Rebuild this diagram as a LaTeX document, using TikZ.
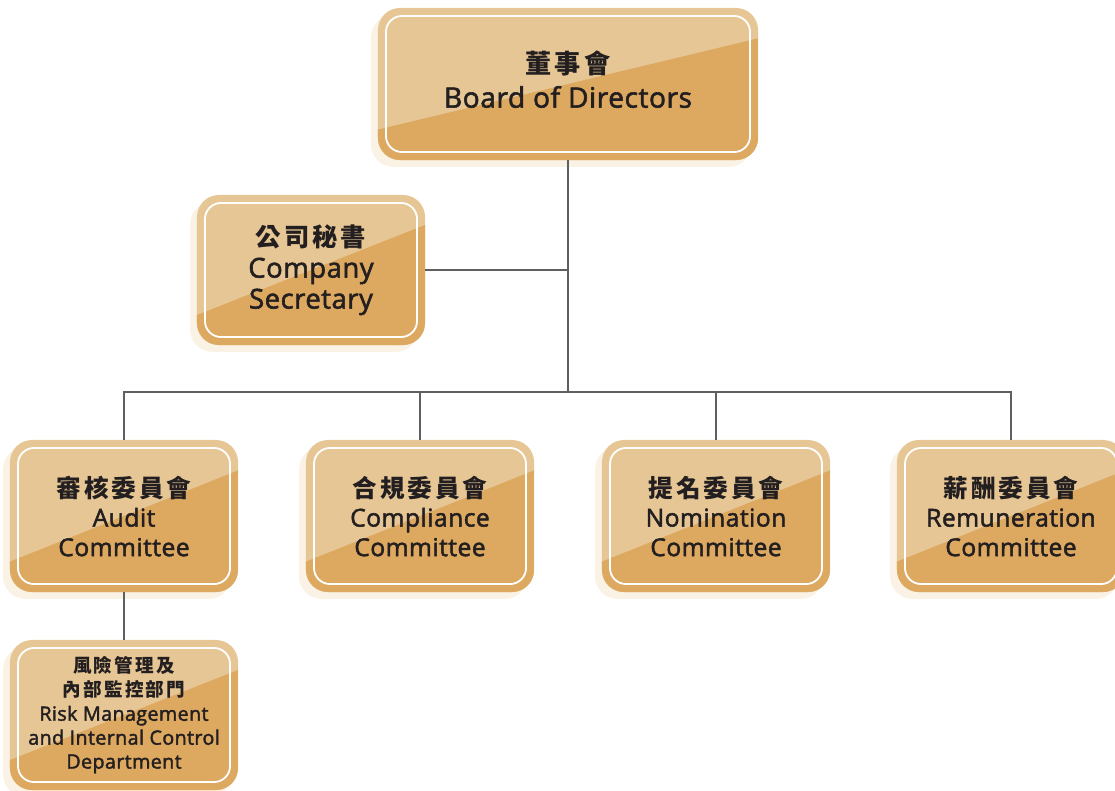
\documentclass[tikz,border=0pt]{standalone}
\usepackage{fontspec}
\setmainfont{Open Sans}[FakeBold=2, LetterSpace=2]
\newfontfamily\cjk{Noto Sans CJK TC}[LetterSpace=12]
\usetikzlibrary{calc,positioning,shadows}
\definecolor{boxlight}{RGB}{230,198,148}
\definecolor{boxdark}{RGB}{221,168,96}
\definecolor{boxshade}{RGB}{250,242,228}
\definecolor{inkdark}{RGB}{35,31,32}
\definecolor{linegray}{RGB}{95,95,95}
\newcommand{\zh}[2]{{\fontsize{#1}{#1}\selectfont\cjk\bfseries #2}}

\begin{document}
\begin{tikzpicture}[x=0.025cm, y=-0.025cm]
\useasboundingbox (0,0) rectangle (1115,790);
\tikzstyle{orgbox}=[rounded corners=0.55cm, fill=boxlight, text=inkdark,
                    align=center, inner sep=0pt,
                    minimum width=5.7cm, minimum height=3.8cm,
                    font=\fontsize{17.5}{21}\selectfont,
                    drop shadow={shadow xshift=-0.17cm, shadow yshift=-0.17cm,
                                 fill=boxshade, opacity=1},
                    path picture={
                      \fill[boxdark, sharp corners]
                        ($(path picture bounding box.south west)!0.2!(path picture bounding box.north west)$)
                        -- ($(path picture bounding box.south east)!0.8!(path picture bounding box.north east)$)
                        -- (path picture bounding box.south east)
                        -- (path picture bounding box.south west) -- cycle;
                      \draw[white, line width=1.3pt, rounded corners=0.4cm]
                        ([shift={(0.2cm,-0.2cm)}]path picture bounding box.north west)
                        rectangle ([shift={(-0.2cm,0.2cm)}]path picture bounding box.south east);
                    }]
\tikzstyle{bigbox}=[orgbox, minimum width=9.5cm, font=\fontsize{20}{24}\selectfont, text depth=6.5pt]
\tikzstyle{secbox}=[orgbox, minimum height=3.75cm, font=\fontsize{19.5}{22}\selectfont]
\tikzstyle{deptbox}=[orgbox, minimum height=3.75cm, font=\fontsize{14}{17}\selectfont]
\tikzstyle{link}=[draw=linegray, line width=0.8pt]

\node[bigbox] (board) at (568,84) {\zh{18.6}{董事會}\\ Board of Directors};
\node[secbox] (cosec) at (311,270) {\zh{18}{公司秘書}\\ Company\\ Secretary};

\node[orgbox] (audit) at (124,516) {\zh{17.5}{審核委員會}\\ Audit\\ Committee};
\node[orgbox] (compl) at (420,516) {\zh{17.5}{合規委員會}\\ Compliance\\ Committee};
\node[orgbox] (nomin) at (716,516) {\zh{17.5}{提名委員會}\\ Nomination\\ Committee};
\node[orgbox] (remun) at (1011,516) {\zh{17.5}{薪酬委員會}\\ Remuneration\\ Committee};

\node[deptbox] (riskdept) at (124,715)
  {\zh{13.2}{風險管理及}\\ \zh{13.2}{內部監控部門}\\ Risk Management\\ and Internal Control\\ Department};

% connectors
\coordinate (split) at (568,392);
\draw[link] (board.south) -- (split);
\draw[link] (cosec.east) -- (cosec.east -| board.south);
\draw[link] (audit.north) -- (audit.north |- split) -- (remun.north |- split) -- (remun.north);
\draw[link] (compl.north) -- (compl.north |- split);
\draw[link] (nomin.north) -- (nomin.north |- split);
\draw[link] (audit.south) -- (riskdept.north);
\end{tikzpicture}
\end{document}
